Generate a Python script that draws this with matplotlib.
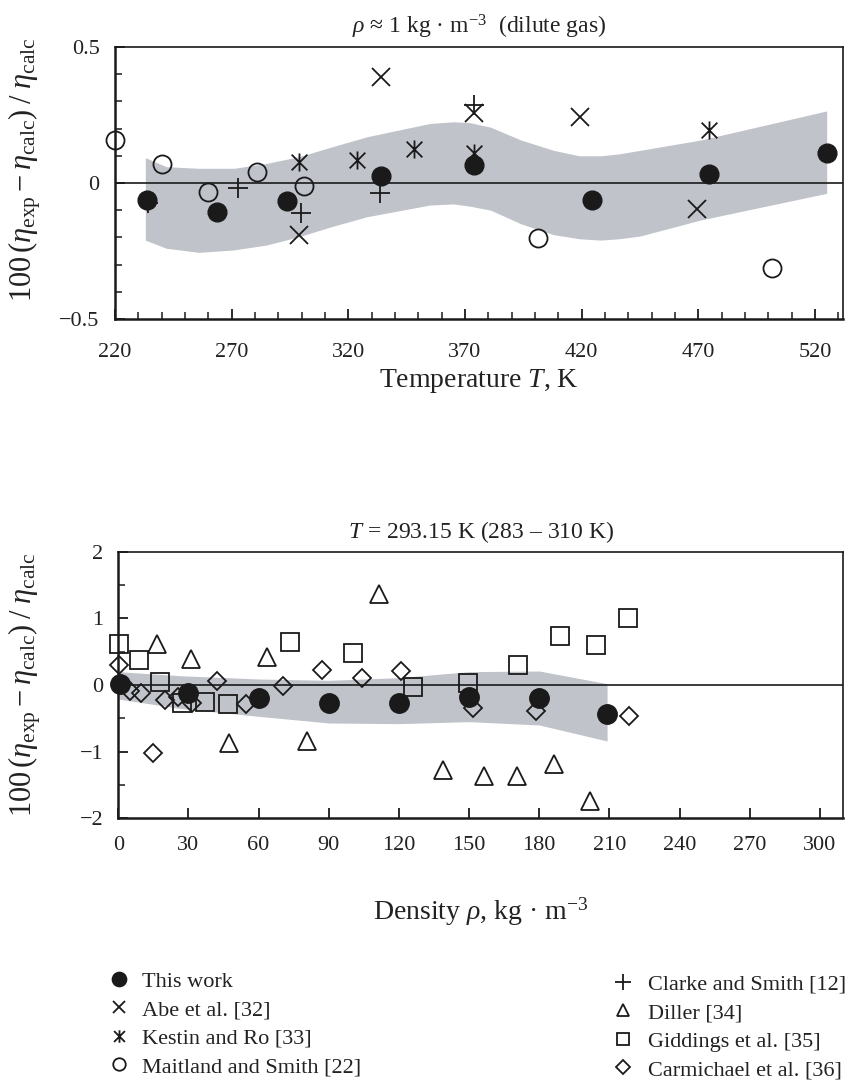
import matplotlib
matplotlib.use("Agg")
import matplotlib.pyplot as plt
from matplotlib.path import Path
from matplotlib.lines import Line2D
from matplotlib.ticker import MultipleLocator, FuncFormatter

plt.rcParams['font.family'] = ['Liberation Serif', 'DejaVu Serif']
plt.rcParams['mathtext.fontset'] = 'custom'
plt.rcParams['mathtext.rm'] = 'Liberation Serif'
plt.rcParams['mathtext.it'] = 'Liberation Serif:italic'
plt.rcParams['mathtext.bf'] = 'Liberation Serif:bold'

# ---------------- data: dilute gas (top) ----------------
this_T = [233.6, 263.6, 293.6, 334.0, 374.0, 424.3, 474.7, 525.0]
this_T_dev = [-0.063, -0.105, -0.066, 0.026, 0.066, -0.063, 0.033, 0.109]
abe_T = [298.9, 334.0, 374.0, 419.3, 469.6]
abe_dev = [-0.191, 0.389, 0.257, 0.242, -0.097]
kestin_T = [298.9, 323.6, 348.3, 374.0, 474.7]
kestin_dev = [0.078, 0.085, 0.124, 0.109, 0.195]
maitland_T = [220.0, 240.3, 260.0, 280.7, 301.0, 401.2, 501.4]
maitland_dev = [0.158, 0.069, -0.034, 0.042, -0.011, -0.201, -0.314]
clarke_T = [234.0, 272.9, 299.7, 333.6, 374.0]
clarke_dev = [-0.075, -0.020, -0.109, -0.036, 0.286]

band1_T = [233, 242, 256, 271, 285, 299, 313, 328, 355, 365, 372, 381, 394, 408, 419, 428, 436, 445, 471, 525]
band1_upper = [0.093, 0.060, 0.054, 0.054, 0.072, 0.097, 0.133, 0.170, 0.219, 0.225, 0.222, 0.205,
               0.158, 0.120, 0.100, 0.100, 0.107, 0.120, 0.158, 0.265]
band1_lower = [-0.210, -0.240, -0.255, -0.246, -0.228, -0.197, -0.160, -0.124, -0.081, -0.077, -0.085,
               -0.100, -0.150, -0.190, -0.205, -0.210, -0.205, -0.195, -0.136, -0.038]

# ---------------- data: T = 293.15 K (bottom) ----------------
this_rho = [0.7, 29.9, 60.1, 90.0, 120.1, 149.9, 179.8, 209.1]
this_rho_dev = [0.01, -0.125, -0.19, -0.275, -0.265, -0.185, -0.20, -0.435]
diller_rho = [16.4, 30.9, 47.4, 63.4, 80.8, 111.4, 138.9, 156.3, 170.5, 186.3, 201.6]
diller_dev = [0.615, 0.39, -0.875, 0.415, -0.84, 1.365, -1.275, -1.365, -1.365, -1.185, -1.74]
giddings_rho = [0.3, 8.8, 17.8, 27.1, 37.0, 47.0, 73.4, 100.4, 126.0, 149.7, 170.7, 188.8, 204.1, 218.0]
giddings_dev = [0.615, 0.375, 0.05, -0.275, -0.26, -0.285, 0.64, 0.475, -0.025, 0.025, 0.295, 0.735, 0.60, 1.01]
carm_rho = [0.3, 5.0, 9.7, 15.0, 20.0, 25.6, 31.4, 42.0, 54.6, 70.3, 86.9, 104.0, 120.7, 151.8, 178.5, 218.4]
carm_dev = [0.30, -0.085, -0.125, -1.025, -0.225, -0.175, -0.275, 0.06, -0.29, -0.015, 0.225, 0.11,
            0.215, -0.35, -0.385, -0.465]

band2_rho = [0, 26, 60, 90, 120, 150, 180, 209]
band2_upper = [0.20, 0.14, 0.09, 0.07, 0.11, 0.20, 0.21, 0.02]
band2_lower = [-0.21, -0.35, -0.47, -0.57, -0.58, -0.55, -0.60, -0.84]

top_xticks = [220, 270, 320, 370, 420, 470, 520]
top_yticks = [-0.5, 0, 0.5]
bot_xticks = [0, 30, 60, 90, 120, 150, 180, 210, 240, 270, 300]
bot_yticks = [-2, -1, 0, 1, 2]

# ---------------- style ----------------
band_color = '#c0c3ca'
ink = '#1a1a1a'
txt = '#222222'
asterisk = Path([(-1, -1), (1, 1), (-1, 1), (1, -1), (0, -1.15), (0, 1.15)],
                [Path.MOVETO, Path.LINETO, Path.MOVETO, Path.LINETO, Path.MOVETO, Path.LINETO])

fmt = FuncFormatter(lambda v, p: ('%g' % v).replace('-', '\u2212'))
ylabel_text = r'$100\,(\eta_{\mathrm{exp}} - \eta_{\mathrm{calc}})\;/\;\eta_{\mathrm{calc}}$'

fig = plt.figure(figsize=(8.49, 10.8), dpi=100)
ax1 = fig.add_axes([115 / 849, 1 - 319 / 1080, 728 / 849, 272 / 1080])
ax2 = fig.add_axes([118.3 / 849, 1 - 818.3 / 1080, 725 / 849, 266.6 / 1080])


def style_axes(ax, xpad):
    for s in ('left', 'bottom'):
        ax.spines[s].set_linewidth(1.8)
    for s in ('top', 'right'):
        ax.spines[s].set_linewidth(1.2)
    for s in ax.spines.values():
        s.set_color(ink)
    ax.tick_params(which='both', direction='in', top=False, right=False, color=ink,
                   labelsize=16, labelcolor=txt)
    ax.tick_params(which='major', length=7, width=1.3)
    ax.tick_params(which='minor', length=5, width=1.1)
    ax.tick_params(axis='x', pad=xpad)
    ax.tick_params(axis='y', pad=11)
    ax.yaxis.set_major_formatter(fmt)
    ax.xaxis.set_major_formatter(fmt)


# ---- top ----
ax1.fill_between(band1_T, band1_lower, band1_upper, color=band_color, lw=0, zorder=1)
ax1.axhline(0, color=ink, lw=1.2, zorder=2)
mk = dict(ls='none', clip_on=False, zorder=3)
ax1.plot(maitland_T, maitland_dev, marker='o', ms=13, mfc='none', mec=ink, mew=1.3, **mk)
ax1.plot(abe_T, abe_dev, marker='x', ms=13, mec=ink, mew=1.3, **mk)
ax1.plot(kestin_T, kestin_dev, marker=asterisk, ms=13, mec=ink, mew=1.3, **mk)
ax1.plot(clarke_T, clarke_dev, marker='+', ms=14, mec=ink, mew=1.3, **mk)
ax1.plot(this_T, this_T_dev, marker='o', ms=13.5, mfc=ink, mec=ink, ls='none', clip_on=False, zorder=4)
ax1.set_xlim(220, 532)
ax1.set_ylim(-0.5, 0.5)
ax1.set_xticks(top_xticks)
ax1.set_yticks(top_yticks)
ax1.xaxis.set_minor_locator(MultipleLocator(10))
ax1.yaxis.set_minor_locator(MultipleLocator(0.1))
style_axes(ax1, 17)
ax1.set_title('$\\rho$ \u2248 1 kg \u00b7 m$^{-3}$  (dilute gas)', fontsize=17, pad=10, color=txt)
ax1.set_xlabel(r'Temperature $T$, K', fontsize=20, color=txt)
ax1.set_ylabel(ylabel_text, fontsize=22, color=txt)
ax1.xaxis.set_label_coords(0.5, -0.175)
ax1.yaxis.set_label_coords(-0.099, 0.55)

# ---- bottom ----
ax2.fill_between(band2_rho, band2_lower, band2_upper, color=band_color, lw=0, zorder=1)
ax2.axhline(0, color=ink, lw=1.2, zorder=2)
ax2.plot(diller_rho, diller_dev, marker='^', ms=13, mfc='none', mec=ink, mew=1.3, **mk)
ax2.plot(giddings_rho, giddings_dev, marker='s', ms=12.5, mfc='none', mec=ink, mew=1.3, **mk)
ax2.plot(carm_rho, carm_dev, marker='D', ms=9, mfc='none', mec=ink, mew=1.3, **mk)
ax2.plot(this_rho, this_rho_dev, marker='o', ms=14, mfc=ink, mec=ink, ls='none', clip_on=False, zorder=4)
ax2.set_xlim(0, 310)
ax2.set_ylim(-2, 2)
ax2.set_xticks(bot_xticks)
ax2.set_yticks(bot_yticks)
ax2.yaxis.set_minor_locator(MultipleLocator(0.5))
style_axes(ax2, 13)
ax2.set_title('$T$ = 293.15 K (283 \u2013 310 K)', fontsize=17, pad=10, color=txt)
ax2.set_xlabel('Density $\\rho$, kg \u00b7 m$^{-3}$', fontsize=20, color=txt)
ax2.set_ylabel(ylabel_text, fontsize=22, color=txt)
ax2.xaxis.set_label_coords(0.5, -0.29)
ax2.yaxis.set_label_coords(-0.104, 0.5)

# ---- legend ----
lk = dict(ls='none', mec=ink, mew=1.3)
left_handles = [
    Line2D([], [], marker='o', ms=10, mfc=ink, **lk),
    Line2D([], [], marker='x', ms=9, **lk),
    Line2D([], [], marker=asterisk, ms=9, **lk),
    Line2D([], [], marker='o', ms=9, mfc='none', **lk),
]
left_labels = ['This work', 'Abe et al. [32]', 'Kestin and Ro [33]', 'Maitland and Smith [22]']
right_handles = [
    Line2D([], [], marker='+', ms=11, **lk),
    Line2D([], [], marker='^', ms=9, mfc='none', **lk),
    Line2D([], [], marker='s', ms=9, mfc='none', **lk),
    Line2D([], [], marker='D', ms=7, mfc='none', **lk),
]
right_labels = ['Clarke and Smith [12]', 'Diller [34]', 'Giddings et al. [35]', 'Carmichael et al. [36]']
lg = dict(frameon=False, fontsize=16, labelspacing=0.36, handlelength=1.0, handletextpad=0.55,
          borderpad=0, borderaxespad=0, loc='upper left', labelcolor=txt)
fig.legend(left_handles, left_labels, bbox_to_anchor=(108 / 849, 1 - 971 / 1080), **lg)
lg['handletextpad'] = 0.6
fig.legend(right_handles, right_labels, bbox_to_anchor=(612 / 849, 1 - 974 / 1080), **lg)

fig.savefig('out.png', dpi=100)
